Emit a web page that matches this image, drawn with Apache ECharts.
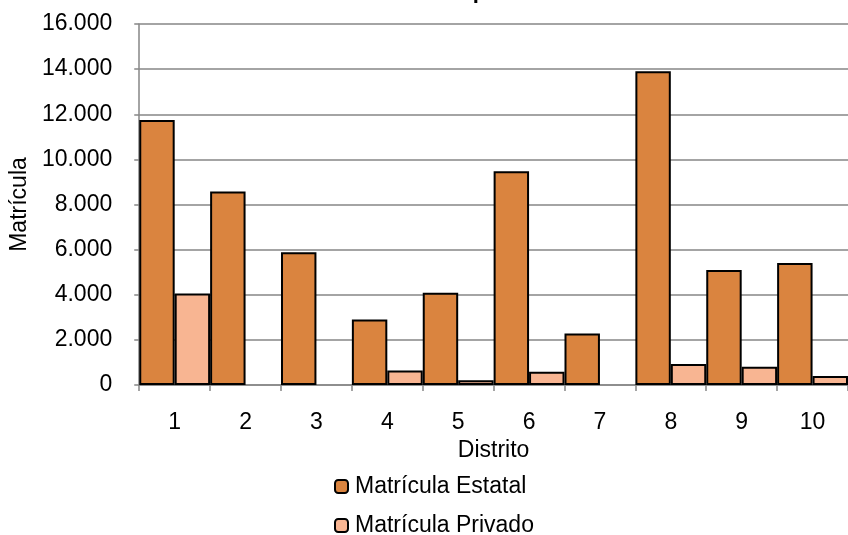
<!DOCTYPE html>
<html>
<head>
<meta charset="utf-8">
<script src="https://cdn.jsdelivr.net/npm/echarts@6/dist/echarts.min.js"></script>
<style>html,body{margin:0;padding:0;background:#fff;}#c{width:848px;height:535px;}</style>
</head>
<body>
<div id="c"></div>
<script>
const categories = ['1','2','3','4','5','6','7','8','9','10'];
const estatal = [11750, 8580, 5880, 2900, 4090, 9470, 2280, 13910, 5100, 5410];
const privado = [4050, null, null, 640, 215, 590, null, 930, 810, 400];
const yTicks = [0, 2000, 4000, 6000, 8000, 10000, 12000, 14000, 16000];

const FONT = '"Liberation Sans", Arial, sans-serif';
const FS = 23;
const chart = echarts.init(document.getElementById('c'), null, {renderer: 'canvas'});
const legendText = {fontFamily: FONT, fontSize: FS, color: '#000', padding: [0, 0, 0, 2]};
chart.setOption({
  animation: false,
  backgroundColor: '#ffffff',
  textStyle: {fontFamily: FONT},
  title: {
    text: 'Matrícula por Distrito',
    left: 365, top: -24,
    textStyle: {fontFamily: FONT, fontSize: 22, fontWeight: 'bold', color: '#000'}
  },
  grid: {left: 136, right: -11, top: 24, bottom: 150, containLabel: false},
  legend: [
    {
      left: 334, top: 475,
      itemWidth: 13, itemHeight: 13, padding: 0,
      textStyle: legendText,
      data: ['Matrícula Estatal']
    },
    {
      left: 334, top: 514,
      itemWidth: 13, itemHeight: 13, padding: 0,
      textStyle: legendText,
      data: ['Matrícula Privado']
    }
  ],
  xAxis: {
    type: 'category',
    data: categories,
    name: 'Distrito',
    nameLocation: 'middle',
    nameGap: 52,
    nameTextStyle: {fontFamily: FONT, fontSize: FS, color: '#000'},
    axisLine: {lineStyle: {color: '#868686', width: 1.5}},
    axisTick: {show: true, length: 6, lineStyle: {color: '#868686', width: 1.5}},
    axisLabel: {fontFamily: FONT, fontSize: FS, color: '#000', margin: 26}
  },
  yAxis: {
    type: 'value',
    min: yTicks[0], max: yTicks[yTicks.length - 1], interval: 2000,
    name: 'Matrícula',
    nameLocation: 'middle',
    nameGap: 107,
    nameTextStyle: {fontFamily: FONT, fontSize: FS, color: '#000'},
    axisLine: {show: true, lineStyle: {color: '#868686', width: 1.5}},
    axisTick: {show: true, length: 5, lineStyle: {color: '#868686', width: 1.5}},
    splitLine: {show: true, lineStyle: {color: '#868686', width: 1.5}},
    axisLabel: {
      fontFamily: FONT, fontSize: FS, color: '#000', margin: 27,
      formatter: v => v === 0 ? '0' : String(v).replace(/\B(?=(\d{3})+(?!\d))/g, '.')
    }
  },
  series: [
    {
      name: 'Matrícula Estatal', type: 'bar', data: estatal,
      barGap: '0%', barCategoryGap: '0%',
      itemStyle: {color: '#DA843F', borderColor: '#000', borderWidth: 2}
    },
    {
      name: 'Matrícula Privado', type: 'bar', data: privado,
      barGap: '0%', barCategoryGap: '0%',
      itemStyle: {color: '#F8B592', borderColor: '#000', borderWidth: 2}
    }
  ]
});
</script>
</body>
</html>
